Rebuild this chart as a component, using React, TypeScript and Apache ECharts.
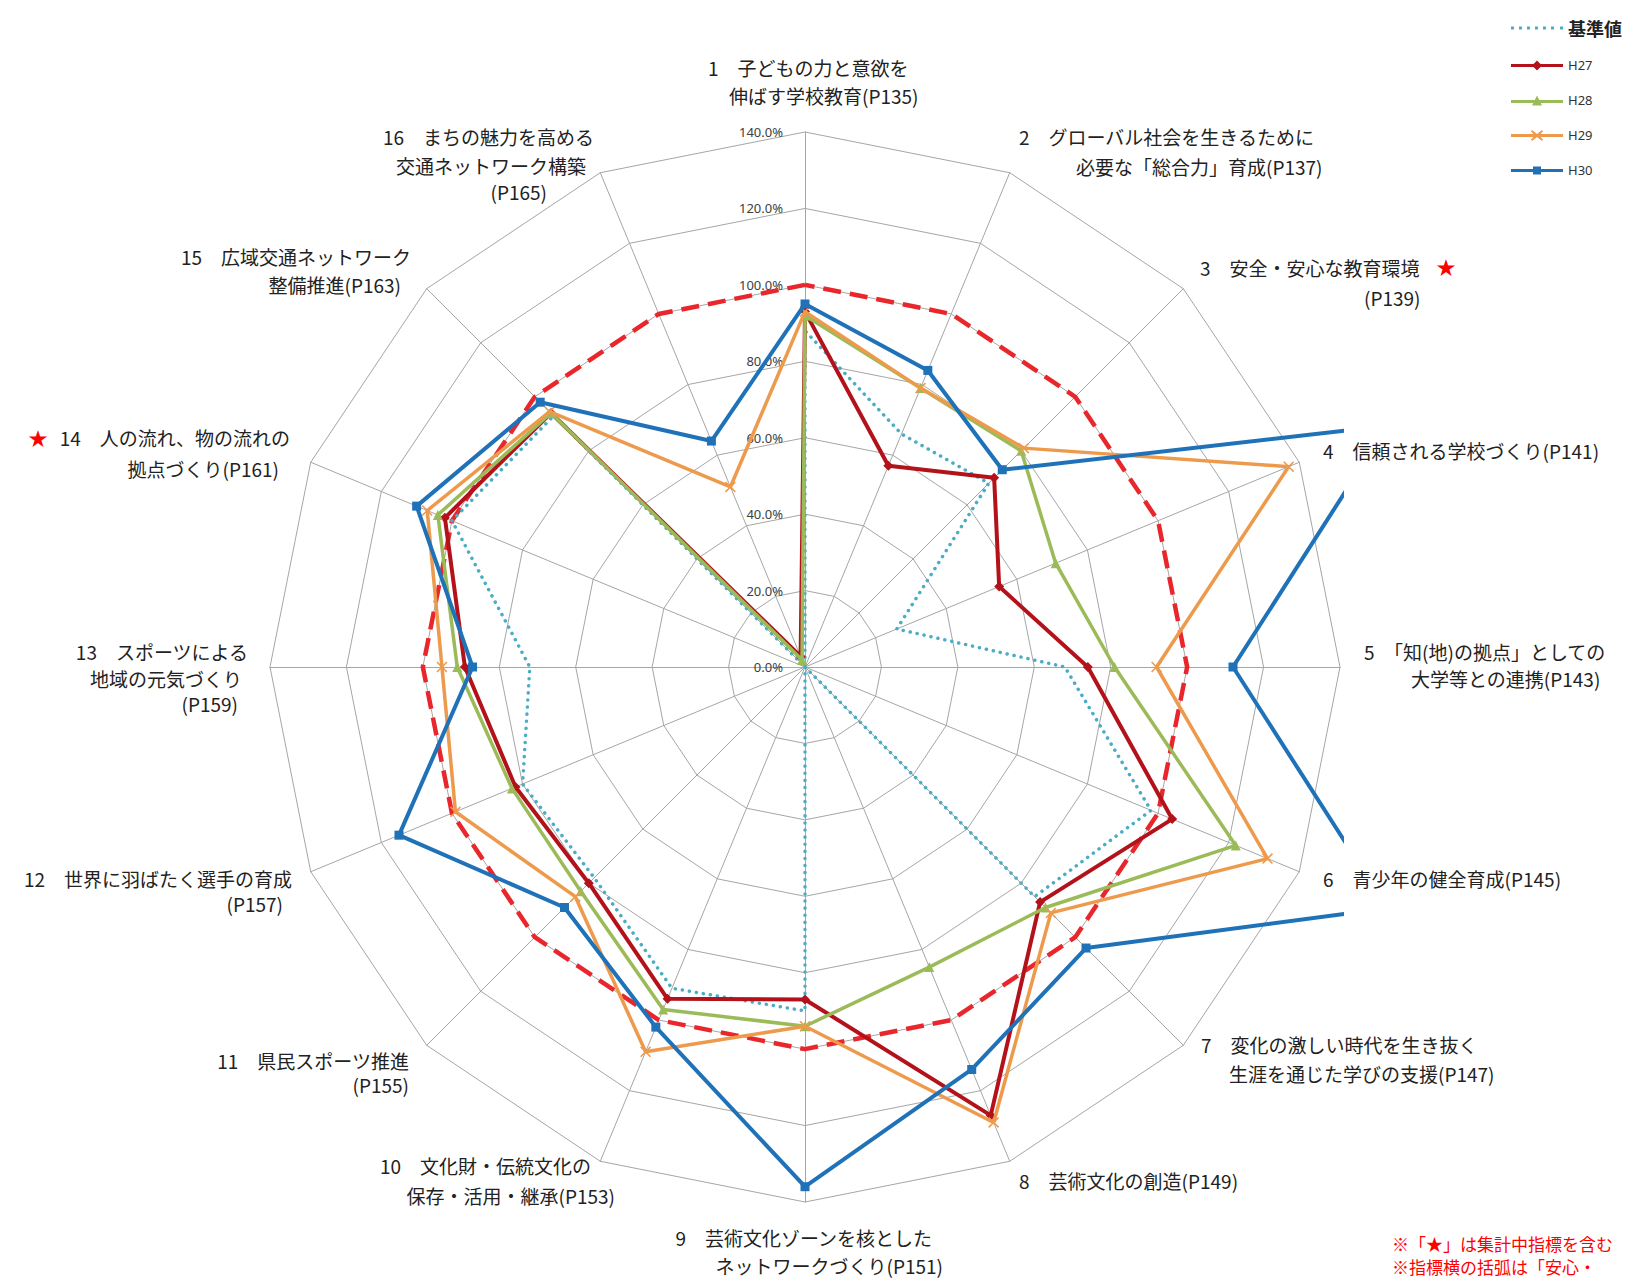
import React, { useEffect, useRef } from "react";
import * as echarts from "echarts";

// ---------- data ----------
const CATEGORIES: string[][] = [
  ["1　子どもの力と意欲を", "伸ばす学校教育(P135)"],
  ["2　グローバル社会を生きるために", "必要な「総合力」育成(P137)"],
  ["3　安全・安心な教育環境　★", "(P139)"],
  ["4　信頼される学校づくり(P141)"],
  ["5　「知(地)の拠点」としての", "大学等との連携(P143)"],
  ["6　青少年の健全育成(P145)"],
  ["7　変化の激しい時代を生き抜く", "生涯を通じた学びの支援(P147)"],
  ["8　芸術文化の創造(P149)"],
  ["9　芸術文化ゾーンを核とした", "ネットワークづくり(P151)"],
  ["10　文化財・伝統文化の", "保存・活用・継承(P153)"],
  ["11　県民スポーツ推進", "(P155)"],
  ["12　世界に羽ばたく選手の育成", "(P157)"],
  ["13　スポーツによる", "地域の元気づくり", "(P159)"],
  ["★ 14　人の流れ、物の流れの", "拠点づくり(P161)"],
  ["15　広域交通ネットワーク", "整備推進(P163)"],
  ["16　まちの魅力を高める", "交通ネットワーク構築", "(P165)"],
];

const TARGET_100 = [1, 1, 1, 1, 1, 1, 1, 1, 1, 1, 1, 1, 1, 1, 1, 1];
const KIJUN = [0.88, 0.66, 0.68, 0.26, 0.68, 0.98, 0.85, 0.0, 0.9, 0.91, 0.78, 0.8, 0.72, 1.0, 0.93, 0.0];
const H27 = [0.93, 0.57, 0.7, 0.55, 0.74, 1.04, 0.87, 1.27, 0.87, 0.94, 0.8, 0.82, 0.89, 1.02, 0.94, 0.03];
const H28 = [0.92, 0.79, 0.8, 0.71, 0.81, 1.22, 0.89, 0.85, 0.94, 0.97, 0.83, 0.83, 0.91, 1.04, 0.94, 0.02];
const H29 = [0.93, 0.79, 0.81, 1.37, 0.92, 1.31, 0.91, 1.29, 0.94, 1.09, 0.85, 0.99, 0.95, 1.07, 0.945, 0.51];
const H30 = [0.95, 0.84, 0.73, 1.65, 1.12, 1.65, 1.04, 1.14, 1.36, 1.02, 0.89, 1.15, 0.87, 1.1, 0.98, 0.64];

const AXIS_MIN = 0;
const AXIS_MAX = 1.4;
const AXIS_STEP = 0.2;

const FOOTNOTES = ["※「★」は集計中指標を含む", "※指標横の括弧は「安心・"];

// ---------- layout / style ----------
const CX = 805;
const CY = 667;
const R = 535;
const CJK = '"Noto Sans CJK JP", "Noto Sans", sans-serif';

// per label, per line: [x, y, align]
const LABEL_LAYOUT: [number, number, string][][] = [
  [[708, 67, "left"], [729, 95, "left"]],
  [[1019, 136, "left"], [1076, 166, "left"]],
  [[1200, 267, "left"], [1364, 297, "left"]],
  [[1323, 450, "left"]],
  [[1364, 651, "left"], [1411, 678, "left"]],
  [[1323, 878, "left"]],
  [[1201, 1044, "left"], [1229, 1073, "left"]],
  [[1019, 1180, "left"]],
  [[932, 1237, "right"], [943, 1265, "right"]],
  [[591, 1165, "right"], [615, 1195, "right"]],
  [[409, 1060, "right"], [409, 1084, "right"]],
  [[292, 878, "right"], [283, 903, "right"]],
  [[248, 651, "right"], [242, 678, "right"], [238, 703, "right"]],
  [[290, 437, "right"], [279, 468, "right"]],
  [[411, 256, "right"], [401, 284, "right"]],
  [[594, 136, "right"], [586, 165, "right"], [547, 191, "right"]],
];

// where the red star of a line is drawn: key "label-line" -> [x, y]
const STAR_LAYOUT: Record<string, [number, number]> = {
  "2-0": [1446, 266],
  "13-0": [38, 437],
};

const FOOT_LAYOUT: [number, number][] = [
  [1392, 1243],
  [1392, 1266],
];

const COLORS: Record<string, string> = {
  "100%": "#E8262B",
  基準値: "#4BACC6",
  H27: "#B3121B",
  H28: "#9BBB59",
  H29: "#EE9A4D",
  H30: "#1F72B8",
};

const X_SYMBOL = "path://M1,0 L5,4 L9,0 L10,1 L6,5 L10,9 L9,10 L5,6 L1,10 L0,9 L4,5 L0,1 Z";

const LEGEND_ICONS: Record<string, string> = {
  基準値:
    "path://M0,0 h3 v3 h-3 Z M8,0 h3 v3 h-3 Z M16,0 h3 v3 h-3 Z M24,0 h3 v3 h-3 Z M32,0 h3 v3 h-3 Z M40,0 h3 v3 h-3 Z M49,0 h3 v3 h-3 Z",
  H27: "path://M0,4 L52,4 L52,7 L0,7 Z M26,0.5 L31,5.5 L26,10.5 L21,5.5 Z",
  H28: "path://M0,5 L52,5 L52,8 L0,8 Z M26,0.5 L31,10.5 L21,10.5 Z",
  H29: "path://M0,4 L52,4 L52,7 L0,7 Z M21,0 L26,4 L31,0 L32,1.5 L28,5.5 L32,9.5 L31,11 L26,7 L21,11 L20,9.5 L24,5.5 L20,1.5 Z",
  H30: "path://M0,4 L52,4 L52,7 L0,7 Z M22,1.5 L30,1.5 L30,9.5 L22,9.5 Z",
};

const SERIES_DEFS = [
  { name: "100%", values: TARGET_100, width: 4.5, type: [18, 9] as any, cap: "butt", symbol: "none", size: 0 },
  { name: "基準値", values: KIJUN, width: 3.5, type: [0.1, 7] as any, cap: "round", symbol: "none", size: 0 },
  { name: "H27", values: H27, width: 4, type: "solid", cap: "butt", symbol: "diamond", size: 10 },
  { name: "H28", values: H28, width: 3.5, type: "solid", cap: "butt", symbol: "triangle", size: 10 },
  { name: "H29", values: H29, width: 3.5, type: "solid", cap: "butt", symbol: X_SYMBOL, size: 11 },
  { name: "H30", values: H30, width: 4, type: "solid", cap: "butt", symbol: "rect", size: 9 },
];

const LEGEND_NAMES = ["基準値", "H27", "H28", "H29", "H30"];

// radar axes run counter-clockwise in ECharts; reorder so items go clockwise
const ORDER = [0, ...Array.from({ length: CATEGORIES.length - 1 }, (_, i) => CATEGORIES.length - 1 - i)];

export default function App() {
  const ref = useRef<HTMLDivElement>(null);

  useEffect(() => {
    if (!ref.current) return;
    const chart = echarts.init(ref.current, undefined, { renderer: "svg" });

    const textStyle = (text: string, fill: string, align: string, size = 19) => ({
      text,
      fill,
      fontSize: size,
      fontFamily: CJK,
      align,
      textAlign: align,
      verticalAlign: "middle",
      textVerticalAlign: "middle",
    });

    const labelElements: any[] = [];
    CATEGORIES.forEach((lines, i) => {
      lines.forEach((line, j) => {
        const [x, y, align] = LABEL_LAYOUT[i][j];
        const hasStar = line.includes("★");
        const plain = line.replace("★", "").trim();
        labelElements.push({ type: "text", x, y, z: 60, silent: true, style: textStyle(plain, "#222", align) });
        const star = STAR_LAYOUT[`${i}-${j}`];
        if (hasStar && star) {
          labelElements.push({
            type: "text",
            x: star[0],
            y: star[1],
            z: 60,
            silent: true,
            style: textStyle("★", "#FF0000", "center"),
          });
        }
      });
    });

    const footElements = FOOTNOTES.map((t, i) => ({
      type: "text",
      x: FOOT_LAYOUT[i][0],
      y: FOOT_LAYOUT[i][1],
      z: 60,
      silent: true,
      style: textStyle(t, "#FF0000", "left", 17),
    }));

    const option: any = {
      animation: false,
      backgroundColor: "#ffffff",
      radar: {
        center: [CX, CY],
        radius: R,
        startAngle: 90,
        splitNumber: Math.round((AXIS_MAX - AXIS_MIN) / AXIS_STEP),
        shape: "polygon",
        indicator: ORDER.map((i) => ({ name: CATEGORIES[i].join(""), min: AXIS_MIN, max: AXIS_MAX })),
        axisName: { show: false },
        axisLine: { lineStyle: { color: "#A6A6A6", width: 1 } },
        splitLine: { lineStyle: { color: "#A6A6A6", width: 1 } },
        splitArea: { show: false },
        axisTick: { show: false },
        axisLabel: { show: false },
      },
      grid: { left: CX, top: CY - R, width: 10, height: R, containLabel: false },
      xAxis: { type: "value", show: false },
      yAxis: {
        type: "value",
        min: AXIS_MIN,
        max: AXIS_MAX,
        interval: AXIS_STEP,
        axisLine: { show: false },
        axisTick: { show: false },
        splitLine: { show: false },
        axisLabel: {
          margin: 22,
          fontSize: 13,
          color: "#404040",
          fontFamily: '"Noto Sans", sans-serif',
          formatter: (v: number) => (v * 100).toFixed(1) + "%",
        },
      },
      legend: {
        orient: "vertical",
        left: 1506,
        top: 14,
        itemWidth: 52,
        itemHeight: 16,
        itemGap: 22,
        selectedMode: false,
        symbolKeepAspect: true,
        data: LEGEND_NAMES.map((n) => ({
          name: n,
          icon: LEGEND_ICONS[n],
          itemStyle: { color: COLORS[n], borderWidth: 0 },
        })),
        formatter: (name: string) => (name === "基準値" ? `{a|${name}}` : `{b|${name}}`),
        textStyle: {
          rich: {
            a: { fontSize: 18, fontWeight: "bold", color: "#222", fontFamily: CJK, lineHeight: 16 },
            b: { fontSize: 13, color: "#333", fontFamily: '"Noto Sans", sans-serif', lineHeight: 16 },
          },
        },
      },
      series: SERIES_DEFS.map((d, k) => ({
        type: "radar",
        name: d.name,
        z: 2 + k * 0.01,
        symbol: d.symbol,
        symbolSize: d.size,
        lineStyle: { color: COLORS[d.name], width: d.width, type: d.type, cap: d.cap },
        itemStyle: { color: COLORS[d.name], borderWidth: 0 },
        emphasis: { disabled: true },
        data: [{ name: d.name, value: ORDER.map((i) => d.values[i]) }],
      })),
      graphic: {
        elements: [
          {
            type: "rect",
            z: 50,
            silent: true,
            shape: { x: CX + R + 4, y: 380, width: 1633 - (CX + R + 4), height: 600 },
            style: { fill: "#ffffff" },
          },
          ...labelElements,
          ...footElements,
        ],
      },
    };

    chart.setOption(option);
    return () => chart.dispose();
  }, []);

  return (
    <div
      ref={ref}
      style={{ position: "fixed", left: 0, top: 0, width: 1633, height: 1278, background: "#fff" }}
    />
  );
}
